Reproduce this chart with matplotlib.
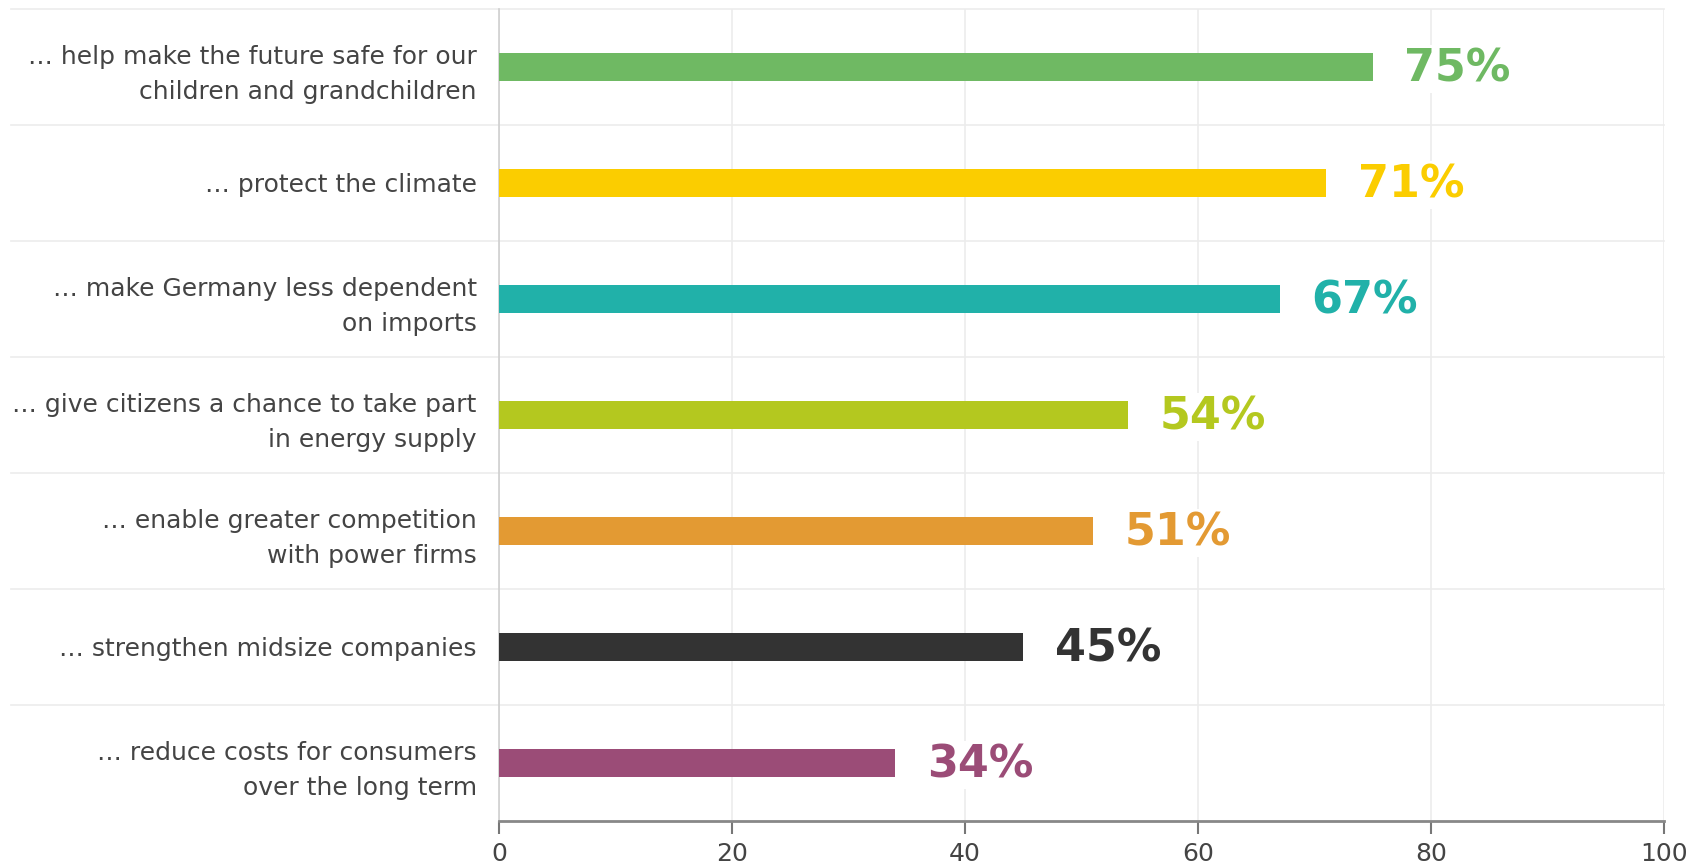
import matplotlib
matplotlib.use("Agg")
import matplotlib.pyplot as plt
from matplotlib import font_manager

# survey reasons, top to bottom
labels = [
    "\u2026 help make the future safe for our\nchildren and grandchildren",
    "\u2026 protect the climate",
    "\u2026 make Germany less dependent\non imports",
    "\u2026 give citizens a chance to take part\nin energy supply",
    "\u2026 enable greater competition\nwith power firms",
    "\u2026 strengthen midsize companies",
    "\u2026 reduce costs for consumers\nover the long term",
]
values = [75, 71, 67, 54, 51, 45, 34]
colors = ["#6fb963", "#fbcd00", "#21b1a9", "#b4c81f", "#e39a33", "#333333", "#9b4c77"]
xticks = [0, 20, 40, 60, 80, 100]

installed = {f.name for f in font_manager.fontManager.ttflist}
family = "Liberation Sans Narrow" if "Liberation Sans Narrow" in installed else "DejaVu Sans"
plt.rcParams["font.family"] = [family, "DejaVu Sans"]

fig = plt.figure(figsize=(17.05, 8.65), dpi=100)
ax = fig.add_axes([0.2927, 0.0509, 0.976 - 0.2927, 0.9896 - 0.0509])

pos = list(range(len(values)))
ax.barh(pos, values, height=0.235, color=colors, zorder=3)
ax.set_ylim(len(values) - 0.5, -0.5)
ax.set_xlim(0, 100)

for y, v, c in zip(pos, values, colors):
    ax.text(v + 2.7, y + 0.02, f"{v}%", color=c, fontsize=32, fontweight="bold",
            va="center", ha="left", zorder=4,
            bbox=dict(facecolor="white", edgecolor="none", pad=2))

# row separators run into the label area
for b in range(len(values)):
    ax.axhline(b - 0.5, xmin=-0.419, xmax=1.0, color="#ececec", lw=1.2,
               clip_on=False, zorder=1)

ax.set_xticks(xticks)
ax.xaxis.grid(True, color="#ececec", lw=1.2, zorder=0)
ax.set_yticks(pos)
ax.set_yticklabels(labels, fontsize=18, color="#444444", linespacing=1.55)
ax.tick_params(axis="y", length=0, pad=16)
ax.tick_params(axis="x", length=9, width=1.5, color="#777777",
               labelsize=18, labelcolor="#444444", pad=6)
for lab in ax.get_yticklabels():
    lab.set_horizontalalignment("right")

for side in ("top", "right"):
    ax.spines[side].set_visible(False)
ax.spines["left"].set_color("#cfcfcf")
ax.spines["left"].set_linewidth(1.2)
ax.spines["bottom"].set_color("#888888")
ax.spines["bottom"].set_linewidth(2)

fig.savefig("out.png", dpi=100, facecolor="white")
